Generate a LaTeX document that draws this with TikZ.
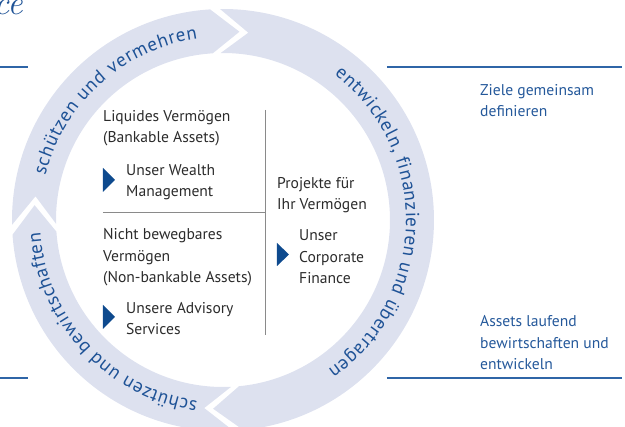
\documentclass[tikz,border=0pt]{standalone}
\usepackage{fontspec}
\usetikzlibrary{decorations.text,positioning}

\newfontfamily\ptsans{PT Sans}
\newcommand\bodysize{\ptsans\fontsize{15.6}{21.5}\selectfont}
\newcommand\ringsize{\ptsans\fontsize{19}{19}\selectfont}

\definecolor{ringfill}{HTML}{DDE1EF}
\definecolor{ringblue}{HTML}{1E5296}
\definecolor{goalblue}{HTML}{24589A}
\definecolor{lineblue}{HTML}{2F65A7}
\definecolor{markerblue}{HTML}{0E4A8E}
\definecolor{bodygrey}{HTML}{2B2B2B}
\definecolor{rulegrey}{HTML}{8A8A8A}

\begin{document}
\begin{tikzpicture}[x=1pt,y=1pt]
\tikzstyle{ring}=[fill=ringfill]
\tikzstyle{ringtext}=[decorate,decoration={text along path,text align=fit to path}]
\tikzstyle{body}=[font=\bodysize,text=bodygrey,align=left,inner sep=0pt,anchor=base west]
\tikzstyle{goal}=[body,text=goalblue]
\tikzstyle{rule}=[draw=rulegrey,line width=1pt]
\tikzstyle{goalline}=[draw=lineblue,line width=1.5pt]
\tikzstyle{marker}=[fill=markerblue]
\def\rout{211}
\def\rin{167}
\def\rmid{189}
\def\rtxt{183}
\def\tipang{8.5}
\def\ringarrow#1#2{\path[ring] (#1:\rout) arc (#1:#2+\tipang:\rout) -- (#2:\rmid)
  -- (#2+\tipang:\rin) arc (#2+\tipang:#1:\rin) -- (#1-\tipang:\rmid) -- cycle;}

\useasboundingbox (-223,-207) rectangle (402,220);

% heading fragment
\node[text=ringblue,font=\fontsize{34}{34}\selectfont\itshape,inner sep=0pt,anchor=base east] (title) at (-200,205) {ce};

% ring of three arrows
\ringarrow{181.3}{85}
\ringarrow{90.8}{-93}
\ringarrow{-87.2}{-184.5}

\path[ringtext,decoration={text={|\ringsize\color{ringblue}|schützen und vermehren}}]
  (166:\rtxt) arc (166:98:\rtxt);
\path[ringtext,decoration={text={|\ringsize\color{ringblue}|entwickeln, finanzieren und übertragen}}]
  (52.5:\rtxt) arc (52.5:-55:\rtxt);
\path[ringtext,decoration={text={|\ringsize\color{ringblue}|schützen und bewirtschaften}}]
  (-98:\rtxt) arc (-98:-176:\rtxt);

% inner blocks (base = last line)
\node[body] (liquid) at (-120,77) {Liquides Vermögen\\(Bankable Assets)};
\node[body] (wealth) at (-97,23) {Unser Wealth\\Management};
\node[body] (nicht) at (-120,-63) {Nicht bewegbares\\Vermögen\\(Non-bankable Assets)};
\node[body] (advisory) at (-97,-115) {Unsere Advisory\\Services};
\node[body] (projekte) at (54,10) {Projekte für\\Ihr Vermögen};
\node[body] (corporate) at (76,-64) {Unser\\Corporate\\Finance};

\fill[marker] (-120,52) -- (-108,40) -- (-120,28) -- cycle;
\fill[marker] (-120,-85) -- (-108,-97) -- (-120,-109) -- cycle;
\fill[marker] (54,-23) -- (66,-34.5) -- (54,-46) -- cycle;

\draw[rule] (43,110) -- (43,-115);
\draw[rule] (-120,7) -- (43,7);

% goals on the right
\node[goal] (ziele) at (257,103) {Ziele gemeinsam\\definieren};
\node[goal] (assets) at (257,-150) {Assets laufend\\bewirtschaften und\\entwickeln};

\draw[goalline] (-223,153) -- (-195,153);
\draw[goalline] (-223,-158) -- (-195,-158);
\draw[goalline] (164,153) -- (399,153);
\draw[goalline] (164,-158) -- (399,-158);
\end{tikzpicture}
\end{document}
